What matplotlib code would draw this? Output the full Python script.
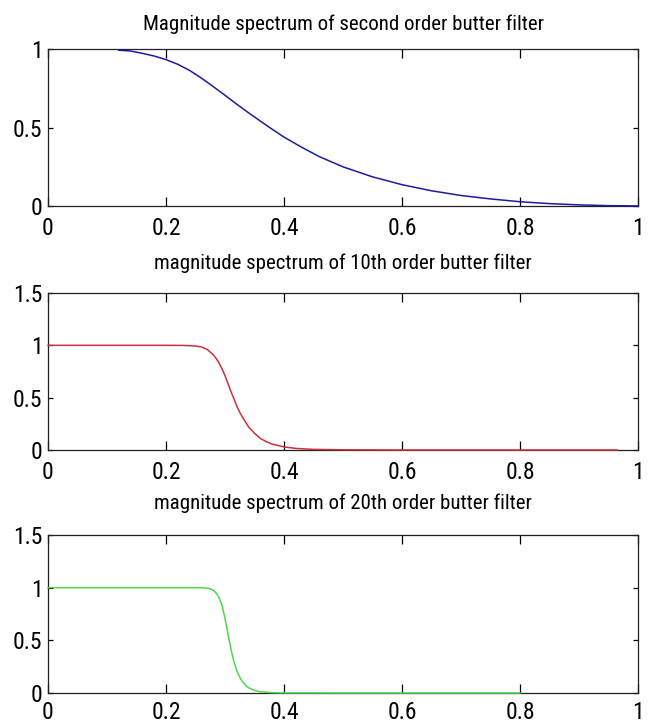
import matplotlib
matplotlib.use("Agg")
import matplotlib.pyplot as plt
import matplotlib.font_manager as fm

# fonte estreita, se houver alguma instalada
candidatas = ['Liberation Sans Narrow', 'Roboto Condensed', 'Open Sans Condensed',
              'DejaVu Sans Condensed', 'Noto Sans Condensed', 'Arial Narrow']
nomes = {f.name for f in fm.fontManager.ttflist}
fonte = next((c for c in candidatas if c in nomes), None)
esticamento = 'normal'
if fonte is None:
    estreitas = [f for f in fm.fontManager.ttflist
                 if f.stretch in ('condensed', 'semi-condensed', 'extra-condensed')
                 and f.style == 'normal' and f.weight in (400, 'normal', 'regular')]
    if estreitas:
        fonte = estreitas[0].name
        esticamento = estreitas[0].stretch
    else:
        fonte = 'Liberation Sans'
plt.rcParams['font.family'] = [fonte, 'Liberation Sans', 'DejaVu Sans']
plt.rcParams['font.stretch'] = esticamento

# valores
freq_2 = [0.12, 0.14, 0.16, 0.18, 0.20, 0.22, 0.24, 0.26, 0.28, 0.30,
          0.32, 0.34, 0.36, 0.38, 0.40, 0.43, 0.46, 0.50, 0.55, 0.60,
          0.65, 0.70, 0.75, 0.80, 0.85, 0.90, 0.95, 1.00]
mag_2 = [0.995, 0.99, 0.975, 0.958, 0.935, 0.905, 0.866, 0.817, 0.763, 0.707,
         0.65, 0.595, 0.542, 0.49, 0.44, 0.375, 0.315, 0.25, 0.186, 0.136,
         0.097, 0.067, 0.045, 0.027, 0.015, 0.007, 0.002, 0.0]

freq_10 = [0.0, 0.05, 0.10, 0.15, 0.20, 0.23, 0.25, 0.26, 0.27, 0.28,
           0.285, 0.29, 0.295, 0.30, 0.305, 0.31, 0.315, 0.32, 0.325, 0.33,
           0.34, 0.35, 0.36, 0.37, 0.38, 0.40, 0.42, 0.45, 0.50, 0.60,
           0.70, 0.80, 0.90, 0.965]
mag_10 = [1.0, 1.0, 1.0, 1.0, 1.0, 0.999, 0.993, 0.985, 0.96, 0.91,
          0.875, 0.83, 0.775, 0.71, 0.635, 0.56, 0.49, 0.42, 0.36, 0.31,
          0.22, 0.16, 0.11, 0.08, 0.056, 0.03, 0.015, 0.006, 0.002, 0.0,
          0.0, 0.0, 0.0, 0.0]

freq_20 = [0.0, 0.10, 0.20, 0.25, 0.26, 0.27, 0.275, 0.28, 0.285, 0.29,
           0.295, 0.30, 0.305, 0.31, 0.315, 0.32, 0.325, 0.33, 0.335, 0.34,
           0.35, 0.36, 0.38, 0.40, 0.50, 0.60, 0.70, 0.80]
mag_20 = [1.0, 1.0, 1.0, 1.0, 0.999, 0.995, 0.99, 0.975, 0.95, 0.905,
          0.83, 0.707, 0.56, 0.42, 0.30, 0.21, 0.15, 0.104, 0.073, 0.05,
          0.025, 0.012, 0.003, 0.001, 0.0, 0.0, 0.0, 0.0]

xticks = [0, 0.2, 0.4, 0.6, 0.8, 1]
xlabels = ['0', '0.2', '0.4', '0.6', '0.8', '1']
yticks_1 = [0, 0.5, 1]
ylabels_1 = ['0', '0.5', '1']
yticks_2 = [0, 0.5, 1, 1.5]
ylabels_2 = ['0', '0.5', '1', '1.5']

titulos = ['Magnitude spectrum of second order butter filter',
           'magnitude spectrum of 10th order butter filter',
           'magnitude spectrum of 20th order butter filter']

fig = plt.figure(figsize=(6.52, 7.25), dpi=100)

# posições dos eixos (em fração da figura)
posicoes = [[0.0736, 0.7159, 0.905, 0.2159],
            [0.0736, 0.3793, 0.905, 0.2166],
            [0.0736, 0.0441, 0.905, 0.2180]]
pads_titulo = [14, 17, 18.5]
pads_x = [8, 8, 5.5]

series = [(freq_2, mag_2, '#1c1c9e', yticks_1, ylabels_1, 1.0),
          (freq_10, mag_10, '#c8323c', yticks_2, ylabels_2, 1.5),
          (freq_20, mag_20, '#4fd64f', yticks_2, ylabels_2, 1.5)]

for i, (x, y, cor, yt, yl, ymax) in enumerate(series):
    ax = fig.add_axes(posicoes[i])
    ax.plot(x, y, color=cor, linewidth=1.1, zorder=3, clip_on=False)
    ax.set_xlim(0, 1)
    ax.set_ylim(0, ymax)
    ax.set_xticks(xticks)
    ax.set_xticklabels(xlabels)
    ax.set_yticks(yt)
    ax.set_yticklabels(yl)
    ax.tick_params(axis='both', direction='in', top=True, right=True,
                   labelsize=17, colors='black', width=0.9)
    ax.tick_params(axis='x', length=6.5, pad=pads_x[i])
    ax.tick_params(axis='y', length=3.6, pad=4)
    for sp in ax.spines.values():
        sp.set_linewidth(0.9)
        sp.set_color('#202020')
    ax.set_title(titulos[i], fontsize=15, pad=pads_titulo[i])

plt.savefig('out.png', dpi=100)
plt.close()
